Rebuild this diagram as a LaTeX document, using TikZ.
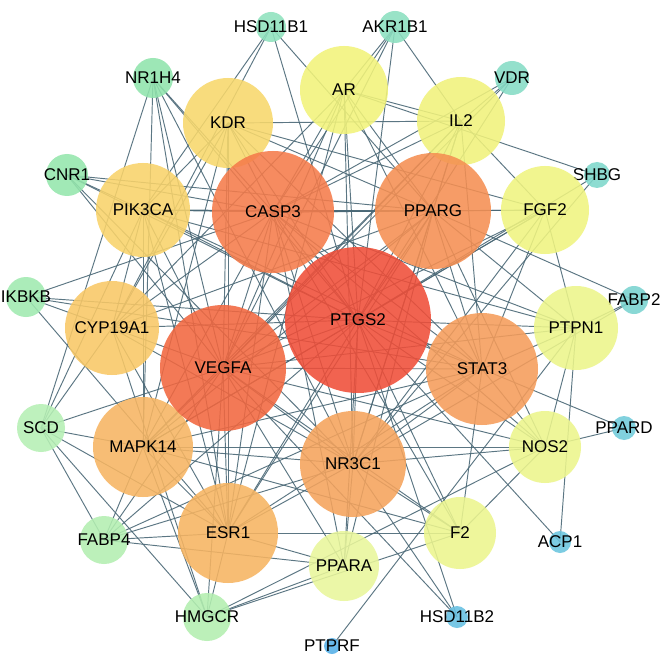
\documentclass[tikz,border=0pt]{standalone}
\usepackage{fontspec}
\setmainfont{Liberation Sans}
\pgfdeclarelayer{paper}
\pgfdeclarelayer{edges}
\pgfsetlayers{paper,edges,main}
\definecolor{edgecol}{RGB}{74,104,118}
\definecolor{cPTGS2}{RGB}{240,78,56}
\definecolor{cVEGFA}{RGB}{242,103,63}
\definecolor{cCASP3}{RGB}{245,123,74}
\definecolor{cPPARG}{RGB}{245,143,82}
\definecolor{cSTAT3}{RGB}{245,156,90}
\definecolor{cNR3C1}{RGB}{245,163,92}
\definecolor{cMAPK14}{RGB}{247,181,98}
\definecolor{cESR1}{RGB}{247,180,97}
\definecolor{cCYP19A1}{RGB}{249,200,102}
\definecolor{cPIK3CA}{RGB}{249,211,106}
\definecolor{cKDR}{RGB}{248,216,108}
\definecolor{cAR}{RGB}{242,243,122}
\definecolor{cIL2}{RGB}{241,242,124}
\definecolor{cFGF2}{RGB}{240,244,128}
\definecolor{cPTPN1}{RGB}{236,245,138}
\definecolor{cNOS2}{RGB}{236,245,140}
\definecolor{cF2}{RGB}{236,245,142}
\definecolor{cPPARA}{RGB}{233,246,155}
\definecolor{cNR1H4}{RGB}{144,228,172}
\definecolor{cCNR1}{RGB}{148,230,172}
\definecolor{cIKBKB}{RGB}{160,234,176}
\definecolor{cSCD}{RGB}{182,240,180}
\definecolor{cFABP4}{RGB}{179,239,177}
\definecolor{cHMGCR}{RGB}{179,239,176}
\definecolor{cHSD11B1}{RGB}{143,226,190}
\definecolor{cAKR1B1}{RGB}{140,224,192}
\definecolor{cVDR}{RGB}{134,220,197}
\definecolor{cSHBG}{RGB}{126,216,203}
\definecolor{cFABP2}{RGB}{121,211,208}
\definecolor{cPPARD}{RGB}{112,203,218}
\definecolor{cACP1}{RGB}{106,197,222}
\definecolor{cHSD11B2}{RGB}{102,192,226}
\definecolor{cPTPRF}{RGB}{85,176,232}
\tikzset{
  gene/.style={circle, draw=none, inner sep=0pt, fill opacity=0.88},
  genelabel/.style={inner sep=0pt, text=black, font=\fontsize{17}{20}\selectfont},
  link/.style={draw=edgecol, line width=0.95pt, draw opacity=0.9},
}
\newcommand\gn[5]{%
  \node[gene, minimum size=#4*2pt, fill=#5] (#1) at (#2,#3) {};
  \node[genelabel] (#1lbl) at (#2,#3) {#1};
}
\begin{document}
\begin{tikzpicture}[x=1pt,y=-1pt]
\begin{pgfonlayer}{paper}
\fill[white] (0,0) rectangle (668,660);
\end{pgfonlayer}
\useasboundingbox (0,0) rectangle (668,660);
% peripheral nodes
\gn{HSD11B1}{271}{27}{15}{cHSD11B1}
\gn{AKR1B1}{395}{27}{16}{cAKR1B1}
\gn{NR1H4}{153}{78}{20}{cNR1H4}
\gn{VDR}{512}{78}{17}{cVDR}
\gn{CNR1}{67}{175}{21}{cCNR1}
\gn{SHBG}{597}{175}{13}{cSHBG}
\gn{IKBKB}{26}{297}{20}{cIKBKB}
\gn{FABP2}{634}{300}{14}{cFABP2}
\gn{SCD}{41}{428}{24}{cSCD}
\gn{PPARD}{624}{428}{12}{cPPARD}
\gn{FABP4}{104}{540}{24}{cFABP4}
\gn{ACP1}{560}{542}{11}{cACP1}
\gn{HMGCR}{207}{617}{24}{cHMGCR}
\gn{HSD11B2}{457}{617}{11}{cHSD11B2}
\gn{PTPRF}{332}{646}{8}{cPTPRF}
% core nodes
\gn{PPARA}{344}{566}{35}{cPPARA}
\gn{F2}{460}{533}{36}{cF2}
\gn{NOS2}{545}{447}{36}{cNOS2}
\gn{PTPN1}{576}{328}{42}{cPTPN1}
\gn{FGF2}{545}{210}{44}{cFGF2}
\gn{IL2}{461}{121}{44}{cIL2}
\gn{AR}{344}{90}{44}{cAR}
\gn{KDR}{228}{123}{45}{cKDR}
\gn{PIK3CA}{143}{210}{47}{cPIK3CA}
\gn{CYP19A1}{112}{328}{47}{cCYP19A1}
\gn{ESR1}{228}{533}{50}{cESR1}
\gn{MAPK14}{143}{447}{50}{cMAPK14}
\gn{NR3C1}{353}{464}{53}{cNR3C1}
\gn{STAT3}{482}{369}{56}{cSTAT3}
\gn{PPARG}{433}{211}{58}{cPPARG}
\gn{CASP3}{273}{212}{61}{cCASP3}
\gn{VEGFA}{223}{368}{63}{cVEGFA}
\gn{PTGS2}{358}{320}{73}{cPTGS2}
\begin{pgfonlayer}{edges}
\foreach \s/\tl in {
 PTGS2/{VEGFA,CASP3,PPARG,STAT3,NR3C1,MAPK14,ESR1,CYP19A1,PIK3CA,KDR,AR,IL2,FGF2,PTPN1,NOS2,F2,PPARA,HSD11B1,AKR1B1,NR1H4,VDR,CNR1,SHBG,IKBKB,FABP4,ACP1,HSD11B2},
 VEGFA/{CASP3,PPARG,STAT3,NR3C1,MAPK14,ESR1,CYP19A1,PIK3CA,KDR,AR,IL2,FGF2,PTPN1,NOS2,F2,PPARA,AKR1B1,NR1H4,VDR,CNR1,SCD,FABP4,HMGCR,HSD11B2},
 CASP3/{PPARG,STAT3,NR3C1,MAPK14,ESR1,CYP19A1,PIK3CA,KDR,AR,IL2,FGF2,PTPN1,NOS2,F2,PPARA,AKR1B1,NR1H4,VDR,CNR1,IKBKB},
 PPARG/{STAT3,NR3C1,MAPK14,ESR1,CYP19A1,PIK3CA,KDR,AR,IL2,FGF2,PTPN1,NOS2,PPARA,HSD11B1,CNR1,FABP2},
 STAT3/{NR3C1,MAPK14,ESR1,PIK3CA,KDR,AR,IL2,FGF2,PTPN1,NOS2,F2,IKBKB,PPARD,FABP4},
 NR3C1/{MAPK14,ESR1,CYP19A1,AR,IL2,FGF2,NOS2,F2,PPARA,NR1H4,CNR1,SHBG,FABP2,FABP4,HSD11B2},
 MAPK14/{ESR1,PIK3CA,KDR,IL2,FGF2,NOS2,F2,NR1H4,SCD,FABP4,HMGCR},
 ESR1/{CYP19A1,PIK3CA,AR,KDR,F2,PPARA,NR1H4,IKBKB,SCD,FABP4,HMGCR},
 CYP19A1/{PIK3CA,AR,KDR,HSD11B1,IKBKB,SCD,HMGCR},
 PIK3CA/{KDR,FGF2,PTPN1,HSD11B1,CNR1,SCD},
 KDR/{FGF2,IL2},
 AR/{IL2,AKR1B1,SHBG},
 IL2/{FGF2,AKR1B1,VDR},
 FGF2/{PTPN1},
 PTPN1/{NOS2,FABP2,ACP1,PTPRF},
 NOS2/{F2,PPARD,HMGCR},
 F2/{HMGCR},
 PPARA/{FABP4,HMGCR},
 SCD/{NR1H4,FABP4,HMGCR}}{
  \foreach \t in \tl {\draw[link] (\s.center) -- (\t.center);}
}
\end{pgfonlayer}
\end{tikzpicture}
\end{document}
